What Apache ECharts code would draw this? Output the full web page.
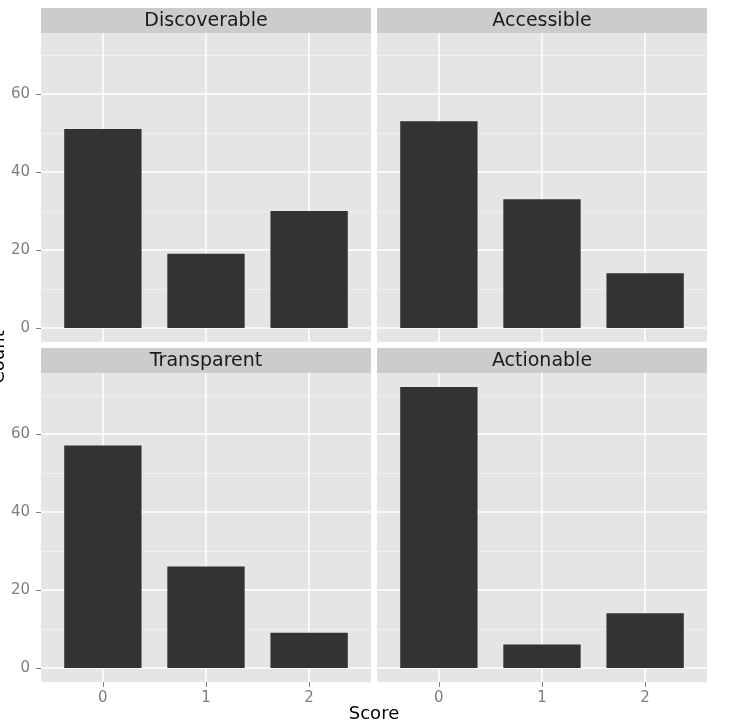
<!DOCTYPE html>
<html>
<head>
<meta charset="utf-8">
<script src="https://cdn.jsdelivr.net/npm/echarts@6/dist/echarts.min.js"></script>
<style>
  html, body { margin: 0; padding: 0; background: #fff; }
  #chart { width: 730px; height: 725px; }
</style>
</head>
<body>
<div id="chart"></div>
<script>
// facet data
var facets = ['Discoverable', 'Accessible', 'Transparent', 'Actionable'];
var scores = [0, 1, 2];
var discoverable = [51, 19, 30];
var accessible = [53, 33, 14];
var transparent = [57, 26, 9];
var actionable = [72, 6, 14];
var countTicks = [0, 20, 40, 60];
var countMinor = [10, 30, 50, 70];

var values = [discoverable, accessible, transparent, actionable];

// ggplot style expansion of the scales
var allMax = Math.max.apply(null, discoverable.concat(accessible, transparent, actionable));
var yPad = allMax * 0.05;
var xPad = 0.6;

// panel layout
var cols = [41, 377];
var rows = [8, 348];
var panelW = 330, stripH = 25, panelH = 309;

var font = 'DejaVu Sans';
var grey50 = '#7f7f7f';

var chart = echarts.init(document.getElementById('chart'));

var grids = [], xAxes = [], yAxes = [], series = [], graphics = [];

facets.forEach(function (name, i) {
  var col = i % 2, row = Math.floor(i / 2);
  var left = cols[col], top = rows[row] + stripH;
  var isBottom = row === 1, isLeft = col === 0;

  grids.push({
    left: left, top: top, width: panelW, height: panelH,
    show: true, backgroundColor: '#e5e5e5', borderWidth: 0
  });

  xAxes.push({
    gridIndex: i, type: 'value', min: scores[0] - xPad, max: scores[scores.length - 1] + xPad,
    z: 3,
    axisLine: { show: false, onZero: false },
    axisTick: { show: isBottom, length: 5, customValues: scores, lineStyle: { color: grey50, width: 1 } },
    axisLabel: { show: isBottom, customValues: scores, margin: 9, color: grey50, fontFamily: font, fontSize: 15 },
    splitLine: { show: true, lineStyle: { color: '#ffffff', width: 1.5 } }
  });

  // main y axis
  yAxes.push({
    gridIndex: i, type: 'value', min: -yPad, max: allMax + yPad,
    z: 2,
    axisLine: { show: false, onZero: false },
    axisTick: { show: isLeft, length: 5, customValues: countTicks, lineStyle: { color: grey50, width: 1 } },
    axisLabel: { show: isLeft, customValues: countTicks, margin: 11, color: grey50, fontFamily: font, fontSize: 15 },
    splitLine: { show: true, lineStyle: { color: '#ffffff', width: 1.5 } }
  });
  // minor grid lines
  yAxes.push({
    gridIndex: i, type: 'value', min: -yPad, max: allMax + yPad,
    z: 1,
    axisLine: { show: false, onZero: false },
    axisTick: { show: false, customValues: countMinor },
    axisLabel: { show: false, customValues: countMinor },
    splitLine: { show: true, lineStyle: { color: '#f0f0f0', width: 1 } }
  });

  series.push({
    type: 'bar', xAxisIndex: i, yAxisIndex: i * 2,
    barWidth: '75%', z: 4,
    itemStyle: { color: '#333333' },
    emphasis: { disabled: true },
    data: scores.map(function (s, k) { return [s, values[i][k]]; })
  });

  // facet strip
  graphics.push({
    type: 'rect', shape: { x: left, y: rows[row], width: panelW, height: stripH },
    style: { fill: '#cccccc' }, silent: true
  });
  graphics.push({
    type: 'text', x: left + panelW / 2, y: rows[row] + stripH / 2 + 1,
    style: { text: name, fill: '#1a1a1a', font: '19px "' + font + '"', align: 'center', verticalAlign: 'middle' },
    silent: true
  });
});

// axis titles
graphics.push({
  type: 'text', x: (cols[0] + cols[1] + panelW) / 2, y: 705,
  style: { text: 'Score', fill: '#000000', font: '18px "' + font + '"', align: 'center', verticalAlign: 'top' },
  silent: true
});
graphics.push({
  type: 'text', x: -1, y: 357, rotation: Math.PI / 2,
  style: { text: 'Count', fill: '#000000', font: '18px "' + font + '"', align: 'center', verticalAlign: 'middle' },
  silent: true
});

var option = {
  animation: false,
  grid: grids,
  xAxis: xAxes,
  yAxis: yAxes,
  series: series,
  graphic: graphics
};

chart.setOption(option);
window.addEventListener('resize', function () { chart.resize(); });
</script>
</body>
</html>
